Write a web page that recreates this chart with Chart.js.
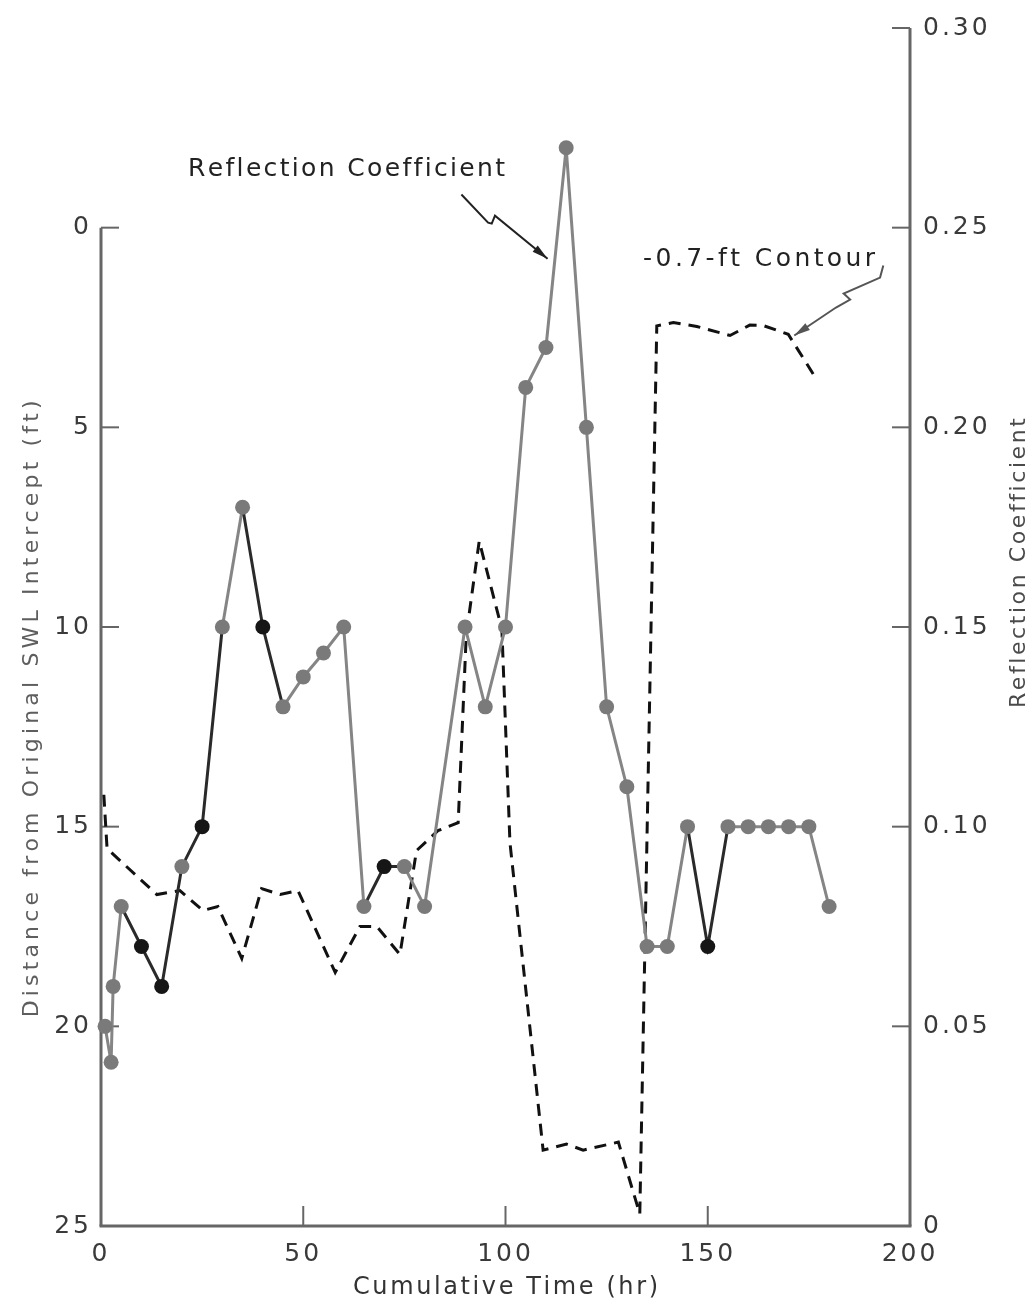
<!DOCTYPE html>
<html>
<head>
<meta charset="utf-8">
<script src="https://cdn.jsdelivr.net/npm/chart.js@4.4.0/dist/chart.umd.min.js"></script>
<style>
html,body{margin:0;padding:0;background:#fff;}
#wrap{width:1035px;height:1305px;position:relative;}
</style>
</head>
<body>
<div id="wrap"><canvas id="c"></canvas></div>
<script>
// ---- Data ----
// Reflection coefficient (right axis)
const timeHr = [1, 2.5, 3, 5, 10, 15, 20, 25, 30, 35, 40, 45, 50, 55, 60, 65, 70, 75, 80,
                90, 95, 100, 105, 110, 115, 120, 125, 130, 135, 140, 145, 150, 155, 160, 165, 170, 175, 180];
const reflCoef = [0.05, 0.041, 0.06, 0.08, 0.07, 0.06, 0.09, 0.10, 0.15, 0.18, 0.15, 0.13, 0.1375, 0.1435, 0.15, 0.08, 0.09, 0.09, 0.08,
                  0.15, 0.13, 0.15, 0.21, 0.22, 0.27, 0.20, 0.13, 0.11, 0.07, 0.07, 0.10, 0.07, 0.10, 0.10, 0.10, 0.10, 0.10, 0.08];
// Times of the points printed dark in the reference
const darkPointTimes = [10, 15, 25, 40, 70, 150];

// -0.7-ft contour: distance from original SWL intercept (left axis, ft)
const contourTime = [0.7, 1.5, 13.8, 19.5, 25.2, 28.9, 34.8, 39.7, 44.3, 48.7, 57.9, 64.0, 68.2, 73.9, 78.0, 83.3, 88.3,
                     90.3, 93.5, 99.1, 101.1, 109.3, 115.1, 119.2, 127.9, 133.2, 137.4, 141.5, 147.3, 155.5, 160.4, 163.7, 169.9, 176.1];
const contourDist = [14.2, 15.55, 16.7, 16.6, 17.1, 17.0, 18.3, 16.55, 16.7, 16.6, 18.65, 17.5, 17.5, 18.2, 15.6, 15.1, 14.9,
                     10.2, 7.85, 10.05, 15.4, 23.1, 22.95, 23.1, 22.9, 24.7, 2.46, 2.375, 2.475, 2.7, 2.44, 2.45, 2.67, 3.67];

// Axis ticks
const xTicks = [0, 50, 100, 150, 200];
const leftTicks = [0, 5, 10, 15, 20, 25];
const rightTicks = [0, 0.05, 0.10, 0.15, 0.20, 0.25, 0.30];

// Texts
const xTitle = 'Cumulative Time (hr)';
const leftTitle = 'Distance from Original SWL Intercept (ft)';
const rightTitle = 'Reflection Coefficient';
const rcLabel = 'Reflection Coefficient';
const contourLabel = '-0.7-ft Contour';

// ---- Styling ----
const FONT = '"DejaVu Sans", "Open Sans", sans-serif';
const AXIS = '#666';
const GRAY = '#858585';
const DARK = '#161616';

const isDark = i => darkPointTimes.includes(timeHr[i]);

function spacedText(ctx, text, cx, cy, fontPx, color, targetW, rot) {
  ctx.save();
  ctx.letterSpacing = '0px';
  ctx.font = fontPx + 'px ' + FONT;
  ctx.fillStyle = color;
  ctx.textBaseline = 'alphabetic';
  ctx.textAlign = 'left';
  ctx.translate(cx, cy);
  ctx.rotate(rot || 0);
  const chars = Array.from(text);
  const ws = chars.map(c => ctx.measureText(c).width);
  const natural = ws.reduce((a, b) => a + b, 0);
  const gap = (targetW - natural) / (chars.length - 1);
  let xx = -targetW / 2;
  chars.forEach((c, i) => { ctx.fillText(c, xx, 0); xx += ws[i] + gap; });
  ctx.restore();
}

function poly(ctx, pts) {
  ctx.beginPath();
  pts.forEach((p, i) => i ? ctx.lineTo(p[0], p[1]) : ctx.moveTo(p[0], p[1]));
  ctx.stroke();
}

function arrowHead(ctx, from, to, len, half) {
  const ang = Math.atan2(to[1] - from[1], to[0] - from[0]);
  ctx.beginPath();
  ctx.moveTo(to[0], to[1]);
  ctx.lineTo(to[0] - len * Math.cos(ang) + half * Math.sin(ang), to[1] - len * Math.sin(ang) - half * Math.cos(ang));
  ctx.lineTo(to[0] - len * Math.cos(ang) - half * Math.sin(ang), to[1] - len * Math.sin(ang) + half * Math.cos(ang));
  ctx.closePath();
  ctx.fill();
}

// annotation arrow paths in data units (x: hr, y: left axis ft)
const rcArrow = [[89.1, -0.83], [95.7, -0.125], [96.6, -0.1], [97.4, -0.3], [110.4, 0.78]];
const contourArrow = [[193.4, 0.95], [192.6, 1.25], [183.6, 1.65], [185.2, 1.8], [181.7, 2.0], [171.4, 2.7]];

const decor = {
  id: 'decor',
  beforeDraw(chart) {
    chart.ctx.letterSpacing = '3px';
  },
  beforeDatasetsDraw(chart) {
    const {ctx, chartArea: a} = chart;
    const {x, yL, yR} = chart.scales;
    ctx.save();
    ctx.letterSpacing = '0px';
    ctx.strokeStyle = AXIS;
    ctx.lineCap = 'butt';
    ctx.lineWidth = 3;
    poly(ctx, [[a.left, yL.getPixelForValue(leftTicks[0])], [a.left, a.bottom]]);
    poly(ctx, [[a.left - 1.5, a.bottom], [a.right + 1.5, a.bottom]]);
    poly(ctx, [[a.right, a.top], [a.right, a.bottom]]);
    ctx.lineWidth = 2;
    leftTicks.slice(0, -1).forEach(v => {
      const py = yL.getPixelForValue(v);
      poly(ctx, [[a.left, py], [a.left + 18, py]]);
    });
    xTicks.slice(1, -1).forEach(v => {
      const px = x.getPixelForValue(v);
      poly(ctx, [[px, a.bottom], [px, a.bottom - 20]]);
    });
    rightTicks.slice(1).forEach(v => {
      const py = yR.getPixelForValue(v);
      poly(ctx, [[a.right, py], [a.right - 18, py]]);
    });
    ctx.restore();
  },
  afterDraw(chart) {
    const {ctx, chartArea: a} = chart;
    const {x, yL} = chart.scales;
    const P = p => [x.getPixelForValue(p[0]), yL.getPixelForValue(p[1])];
    // axis titles
    spacedText(ctx, xTitle, (a.left + a.right) / 2, 1294, 24, '#333', 305, 0);
    spacedText(ctx, leftTitle, 38, yL.getPixelForValue(12.05), 22, '#5e5e5e', 617, -Math.PI / 2);
    spacedText(ctx, rightTitle, 1025, yL.getPixelForValue(8.4), 22, '#4a4a4a', 290, -Math.PI / 2);
    // annotations
    spacedText(ctx, rcLabel, x.getPixelForValue(60.7), yL.getPixelForValue(-1.3), 25, '#222', 317, 0);
    spacedText(ctx, contourLabel, x.getPixelForValue(162.7), yL.getPixelForValue(0.95), 25, '#222', 232, 0);
    ctx.save();
    ctx.strokeStyle = '#222';
    ctx.fillStyle = '#222';
    ctx.lineWidth = 2;
    const p1 = rcArrow.map(P);
    poly(ctx, p1);
    arrowHead(ctx, p1[p1.length - 2], p1[p1.length - 1], 16, 4);
    ctx.strokeStyle = '#555';
    ctx.fillStyle = '#555';
    const p2 = contourArrow.map(P);
    poly(ctx, p2);
    arrowHead(ctx, p2[p2.length - 2], p2[p2.length - 1], 16, 4);
    ctx.restore();
  }
};

const tickFont = {family: FONT, size: 25};

new Chart(document.getElementById('c'), {
  type: 'line',
  data: {
    datasets: [
      {
        label: 'Reflection Coefficient',
        data: timeHr.map((t, i) => ({x: t, y: reflCoef[i]})),
        yAxisID: 'yR',
        order: 0,
        clip: false,
        borderColor: GRAY,
        borderWidth: 3,
        tension: 0,
        pointRadius: 7.5,
        pointBorderWidth: 0,
        pointBackgroundColor: timeHr.map((t, i) => isDark(i) ? DARK : '#7a7a7a'),
        segment: {
          borderColor: c => (isDark(c.p0DataIndex) || isDark(c.p1DataIndex)) ? '#2a2a2a' : GRAY
        }
      },
      {
        label: '-0.7-ft Contour',
        data: contourTime.map((t, i) => ({x: t, y: contourDist[i]})),
        yAxisID: 'yL',
        order: 1,
        clip: false,
        borderColor: '#111',
        borderWidth: 3,
        borderDash: [12, 8],
        tension: 0,
        pointRadius: 0
      }
    ]
  },
  options: {
    responsive: true,
    maintainAspectRatio: false,
    animation: false,
    layout: {padding: {top: 25, left: 0, right: 0, bottom: 0}},
    plugins: {legend: {display: false}, tooltip: {enabled: false}},
    scales: {
      x: {
        type: 'linear', position: 'bottom', min: 0, max: 200,
        afterBuildTicks: s => { s.ticks = xTicks.map(v => ({value: v})); },
        ticks: {font: tickFont, color: '#3a3a3a', padding: 13, maxRotation: 0, autoSkip: false},
        grid: {display: false, drawTicks: false},
        border: {display: false},
        afterFit: s => { s.height = 79; }
      },
      yL: {
        type: 'linear', position: 'left', reverse: true, min: -5, max: 25,
        afterBuildTicks: s => { s.ticks = leftTicks.map(v => ({value: v})); },
        ticks: {font: tickFont, color: '#3a3a3a', padding: 9, autoSkip: false},
        grid: {display: false, drawTicks: false},
        border: {display: false},
        afterFit: s => { s.width = 101; }
      },
      yR: {
        type: 'linear', position: 'right', min: 0, max: 0.30,
        afterBuildTicks: s => { s.ticks = rightTicks.map(v => ({value: v})); },
        ticks: {
          font: tickFont, color: '#3a3a3a', padding: 13, autoSkip: false,
          callback: v => v === 0 ? '0' : v.toFixed(2)
        },
        grid: {display: false, drawTicks: false},
        border: {display: false},
        afterFit: s => { s.width = 125; }
      }
    }
  },
  plugins: [decor]
});
</script>
</body>
</html>
